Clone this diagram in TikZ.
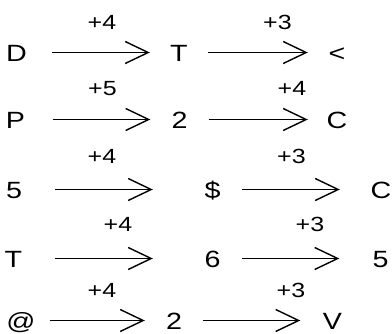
\documentclass[tikz,border=0pt]{standalone}
\usepackage{fontspec}
\setmainfont[FakeStretch=1.22]{Liberation Sans}
\usepackage{tikz}
\usetikzlibrary{arrows.meta,positioning,calc}

\begin{document}
\begin{tikzpicture}
[
	x=1pt,y=-1pt,
	sym/.style={font=\fontsize{23.5pt}{28pt}\selectfont,inner sep=0pt,text height=17pt,text depth=0pt,minimum width=58pt,anchor=base},
	inc/.style={font=\fontsize{20.5pt}{24pt}\selectfont,inner sep=0pt,anchor=base},
	arr/.style={line width=1.4pt,-{Straight Barb[length=23pt,width=22pt]}},
]
	\useasboundingbox (0,0) rectangle (392,333);

	% row 1
	\begin{scope}
		\node[sym] (a1) at (16.5,61) {D};
		\node[sym] (b1) at (179,61) {T};
		\node[sym] (c1) at (337,61) {<};
		\node[inc] (p1) at (102,29.5) {+4};
		\node[inc] (q1) at (277.5,29.5) {+3};
		\draw[arr,shorten <=6.5pt] (a1) -- (b1);
		\draw[arr] (b1) -- (c1);
	\end{scope}

	% row 2
	\begin{scope}
		\node[sym] (a2) at (15.5,128) {P};
		\node[sym] (b2) at (179.5,128) {2};
		\node[sym] (c2) at (337,128) {C};
		\node[inc] (p2) at (102.5,95) {+5};
		\node[inc] (q2) at (292,95) {+4};
		\draw[arr,shorten <=8pt] (a2) -- (b2);
		\draw[arr] (b2) -- (c2);
	\end{scope}

	% row 3
	\begin{scope}
		\node[sym] (a3) at (14,198) {5};
		\node[sym] (b3) at (212.5,198) {\$};
		\node[sym] (c3) at (381,198) {C};
		\node[inc] (p3) at (102,163) {+4};
		\node[inc] (q3) at (291.5,163) {+3};
		\draw[arr,shorten <=12pt,shorten >=30.5pt] (a3) -- (b3);
		\draw[arr,shorten >=12pt] (b3) -- (c3);
	\end{scope}

	% row 4
	\begin{scope}
		\node[sym] (a4) at (13.5,267) {T};
		\node[sym] (b4) at (212.5,267) {6};
		\node[sym] (c4) at (380.5,267) {5};
		\node[inc] (p4) at (118,231) {+4};
		\node[inc] (q4) at (310,231) {+3};
		\draw[arr,shorten <=12pt,shorten >=30.5pt] (a4) -- (b4);
		\draw[arr,shorten >=12pt] (b4) -- (c4);
	\end{scope}

	% row 5
	\begin{scope}
		\node[sym] (a5) at (21,329) {@};
		\node[sym] (b5) at (174,329) {2};
		\node[sym] (c5) at (332.5,329) {V};
		\node[inc] (p5) at (102,297) {+4};
		\node[inc] (q5) at (291,297) {+3};
		\draw[arr] (a5) -- (b5);
		\draw[arr,shorten >=3pt] (b5) -- (c5);
	\end{scope}
\end{tikzpicture}
\end{document}
